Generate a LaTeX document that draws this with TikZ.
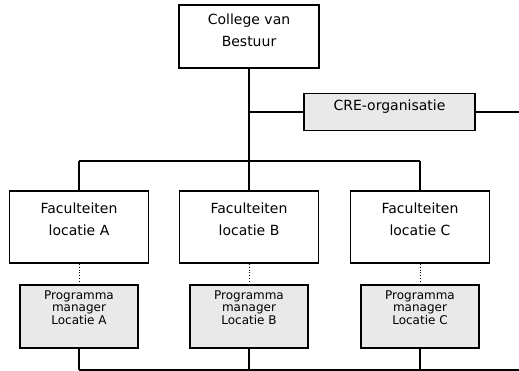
\documentclass[tikz,border=0pt]{standalone}
\usepackage{fontspec}
\setmainfont{DejaVu Sans}
\begin{document}
\begin{tikzpicture}[x=1pt,y=-1pt,
  box/.style={draw, line width=1.6pt, inner sep=0pt, fill=white},
  graybox/.style={box, fill=gray!17},
  conn/.style={line width=1.6pt},
  dots/.style={dotted, line width=0.9pt},
  bigtxt/.style={font=\fontsize{14}{22}\selectfont, align=center, inner sep=0pt},
  smalltxt/.style={font=\fontsize{12}{12.5}\selectfont, align=center, inner sep=0pt}]
\useasboundingbox (0,0) rectangle (519,371);

% top
\node[box, minimum width=140pt, minimum height=63pt] (cvb) at (249,36.5) {};
\node[bigtxt] (cvbt) at (249,30) {College van\\Bestuur};

% CRE
\node[graybox, minimum width=171pt, minimum height=37pt] (cre) at (389.5,112) {};
\node[bigtxt] (cret) at (389.5,107) {CRE-organisatie};

% faculties
\foreach \n/\x/\l in {fa/79/A, fb/249/B, fc/420/C}{
  \node[box, minimum width=139pt, minimum height=72pt] (\n) at (\x,227) {};
  \node[bigtxt] (\n t) at (\x,219.5) {Faculteiten\\locatie \l};
}
% programme managers
\foreach \n/\x/\l in {pa/79/A, pb/249/B, pc/420/C}{
  \node[graybox, minimum width=118pt, minimum height=63pt] (\n) at (\x,316.5) {};
  \node[smalltxt] (\n t) at (\x,307.5) {Programma\\manager\\Locatie \l};
}

\coordinate (j1) at (249,112);
\coordinate (j2) at (249,161);
\coordinate (creend) at (519,112);
\coordinate (bl) at (79,161);
\coordinate (br) at (420,161);
\coordinate (ba) at (79,370);
\coordinate (bend) at (519,370);

\draw[conn] (cvb.south) -- (j2);
\draw[conn] (j1) -- (cre.west);
\draw[conn] (cre.east) -- (creend);
\draw[conn] (bl) -- (br);
\draw[conn] (bl) -- (fa.north);
\draw[conn] (j2) -- (fb.north);
\draw[conn] (br) -- (fc.north);

\draw[dots] (fa.south) -- (pa.north);
\draw[dots] (fb.south) -- (pb.north);
\draw[dots] (fc.south) -- (pc.north);

\draw[conn] (pa.south) -- (ba);
\draw[conn] (pb.south) -- (pb.south |- ba);
\draw[conn] (pc.south) -- (pc.south |- ba);
\draw[conn] (ba) -- (bend);
\end{tikzpicture}
\end{document}
